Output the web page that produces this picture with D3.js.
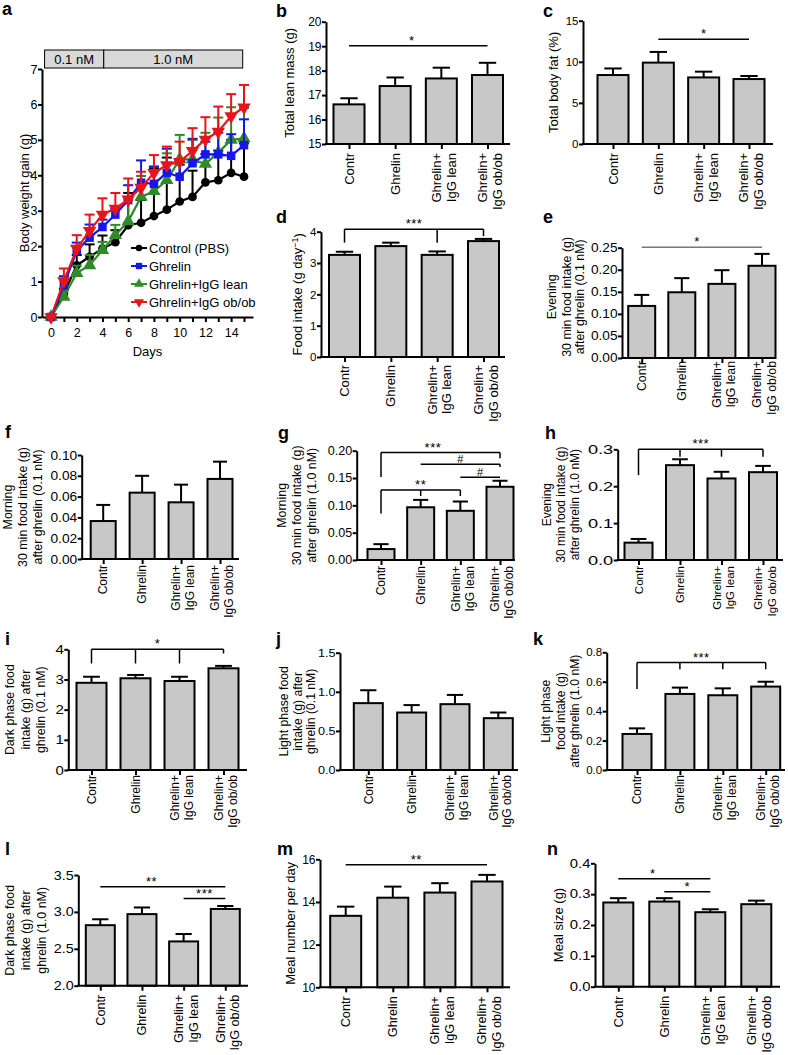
<!DOCTYPE html>
<html><head><meta charset="utf-8">
<script src="https://cdn.jsdelivr.net/npm/d3@7"></script>
<style>
body{margin:0;background:#fff;}
svg{display:block;font-family:"Liberation Sans",Arial,Helvetica,sans-serif;}
</style></head><body>
<svg id="fig" width="788" height="1055"></svg>
<script>
// ---------------- DATA ----------------
const groups = ["Contr","Ghrelin","Ghrelin+\nIgG lean","Ghrelin+\nIgG ob/ob"];

// panel a: body weight gain (g) by day
const days = [0,1,2,3,4,5,6,7,8,9,10,11,12,13,14,15];
const dayTickLabels = ["0","2","4","6","8","10","12","14"];
const weightTickLabels = ["0","1","2","3","4","5","6","7"];
const seriesNames = ["Control (PBS)","Ghrelin","Ghrelin+IgG lean","Ghrelin+IgG ob/ob"];
const controlGain = [0,0.66,1.46,1.70,1.93,2.11,2.59,2.66,2.85,3.03,3.26,3.39,3.80,3.86,4.07,3.96];
const controlSem  = [0,0.14,0.29,0.35,0.37,0.34,0.91,0.64,1.35,1.47,1.04,0.74,0.80,0.84,0.93,0.94];
const ghrelinGain = [0,0.90,1.87,2.24,2.54,2.89,3.30,3.79,3.76,4.07,3.96,4.34,4.59,4.59,4.55,4.85];
const ghrelinSem  = [0,0.25,0.23,0.37,0.21,0.16,0.42,0.63,0.48,0.68,0.44,0.69,0.36,0.61,0.61,0.73];
const leanGain    = [0,0.57,1.24,1.46,1.89,2.31,2.70,3.39,3.55,3.86,4.45,4.45,4.32,4.64,5.00,5.04];
const leanSem     = [0,0.18,0.21,0.29,0.23,0.29,0.60,0.59,0.70,0.76,0.69,0.55,0.88,0.99,0.92,0.86];
const obobGain    = [0,1.01,1.93,2.43,2.89,3.06,3.32,3.65,4.07,4.29,4.38,4.69,5.01,5.23,5.67,5.92];
const obobSem     = [0,0.36,0.38,0.46,0.46,0.44,0.59,0.45,0.50,0.52,0.57,0.64,0.63,0.71,0.62,0.63];
const doseLabels = ["0.1 nM","1.0 nM"];
const doseStartDay = [-0.5,4.1];
const doseEndDay = [4.1,14.9];

// panel b
const leanMass = [16.62,17.37,17.68,17.82];
const leanMassSem = [0.25,0.35,0.44,0.50];
const leanMassTicks = ["15","16","17","18","19","20"];
// panel c
const bodyFat = [8.39,9.9,8.1,7.9];
const bodyFatSem = [0.8,1.3,0.7,0.37];
const bodyFatTicks = ["0","5","10","15"];
// panel d
const foodIntake = [3.26,3.54,3.26,3.70];
const foodIntakeSem = [0.10,0.11,0.11,0.07];
const foodIntakeTicks = ["0","1","2","3","4"];
// panel e
const eveLow = [0.118,0.149,0.168,0.209];
const eveLowSem = [0.025,0.032,0.031,0.027];
const eveLowTicks = ["0.00","0.05","0.10","0.15","0.20","0.25"];
// panel f
const mornLow = [0.0365,0.0638,0.0545,0.077];
const mornLowSem = [0.0155,0.0162,0.017,0.0166];
const mornLowTicks = ["0.00","0.02","0.04","0.06","0.08","0.10"];
// panel g
const mornHigh = [0.020,0.0965,0.090,0.134];
const mornHighSem = [0.009,0.0135,0.017,0.011];
const mornHighTicks = ["0.00","0.05","0.10","0.15","0.20"];
// panel h
const eveHigh = [0.047,0.257,0.221,0.238];
const eveHighSem = [0.010,0.016,0.018,0.017];
const eveHighTicks = ["0.0","0.1","0.2","0.3"];
// panel i
const darkLow = [2.89,3.04,2.95,3.37];
const darkLowSem = [0.20,0.11,0.14,0.08];
const darkLowTicks = ["0","1","2","3","4"];
// panel j
const lightLow = [0.855,0.735,0.842,0.663];
const lightLowSem = [0.165,0.095,0.118,0.072];
const lightLowTicks = ["0.0","0.5","1.0","1.5"];
// panel k
const lightHigh = [0.245,0.517,0.508,0.567];
const lightHighSem = [0.038,0.043,0.047,0.033];
const lightHighTicks = ["0.0","0.2","0.4","0.6","0.8"];
// panel l
const darkHigh = [2.82,2.97,2.60,3.04];
const darkHighSem = [0.08,0.09,0.10,0.04];
const darkHighTicks = ["2.0","2.5","3.0","3.5"];
// panel m
const mealNumber = [13.35,14.2,14.44,14.96];
const mealNumberSem = [0.43,0.52,0.44,0.31];
const mealNumberTicks = ["10","12","14","16"];
// panel n
const mealSize = [0.273,0.276,0.2415,0.2675];
const mealSizeSem = [0.014,0.011,0.0095,0.0115];
const mealSizeTicks = ["0.0","0.1","0.2","0.3","0.4"];

// significance annotations (group indices, y values)
const sigB = [{at:[0,3], y:19.02, label:"*", pos:1.36}];
const sigC = [{at:[1,3], y:12.73, label:"*"}];
const sigD = [{at:[0,2,3], y:4.08, drops:[3.65,3.65,3.86], label:"***"}];
const sigE = [{at:[0,3], y:0.251, label:"*", pos:1.38, gray:true}];
const sigF = [];
const sigG = [
  {at:[0,3], y:0.1965, drops:[0.152,0.186], label:"***", pos:1.31},
  {at:[1,3], y:0.175, drops:[0.175,0.17], label:"#"},
  {at:[2,3], y:0.1515, label:"#"},
  {at:[0,1,2], y:0.128, drops:[0.085,0.117,0.117], label:"**"}];
const sigH = [{at:[0,1,2,3], y:0.30, drops:[0.23,0.28,0.28,0.28], label:"***"}];
const sigI = [{at:[0,1,2,3], y:4.0, drops:[3.53,3.53,3.53,3.86], label:"*"}];
const sigJ = [];
const sigK = [{at:[0,1,2,3], y:0.73, drops:[0.55,0.685,0.685,0.685], label:"***"}];
const sigL = [{at:[0,3], y:3.34, label:"**", pos:1.23},{at:[2,3], y:3.18, label:"***"}];
const sigM = [{at:[0,3], y:15.74, label:"**"}];
const sigN = [{at:[0,2], y:0.35, label:"*", pos:0.75},{at:[1,2], y:0.308, label:"*"}];

// ---------------- DRAWING ----------------
const svg = d3.select("#fig");
const BAR_FILL = "#c8c8c8";

function styleAxis(sel, fs, sx){
  sel.attr("font-family",null).attr("font-size",null);
  sel.select(".domain").attr("stroke","#000").attr("stroke-width",2);
  sel.selectAll(".tick line").attr("stroke","#000").attr("stroke-width",2);
  sel.selectAll(".tick text").attr("fill","#000").style("font-size",fs+"px");
  if(sx && sx!==1){
    sel.selectAll(".tick text").each(function(){
      const t = d3.select(this); const x0 = +t.attr("x");
      t.attr("x", x0/sx).attr("transform",`scale(${sx},1)`);
    });
  }
}

function panelLetter(t,x,y){
  svg.append("text").attr("x",x).attr("y",y).style("font-size","18px").style("font-weight","bold").text(t);
}

function yLabel(xs, cy, lines, fs, superLast){
  lines.forEach((t,i)=>{
    const tx = svg.append("text").attr("transform",`translate(${xs[i]},${cy}) rotate(-90)`)
      .attr("text-anchor","middle").attr("dy","0.35em").style("font-size",fs+"px");
    if(superLast && i===lines.length-1){
      tx.append("tspan").text("Food intake (g day");
      tx.append("tspan").attr("dy","-0.45em").style("font-size","9px").text("\u22121");
      tx.append("tspan").attr("dy","0.45em").text(")");
    } else tx.text(t);
  });
}

function barPanel(L, means, sems, tickLabels, sigs, ylines, superLast){
  panelLetter(L.letter, L.lx, L.ly);
  const g = svg.append("g");
  const tv = tickLabels.map(Number);
  const x = d3.scalePoint().domain(groups).range([L.c0, L.c3]);
  const y = d3.scaleLinear().domain([tv[0], tv[tv.length-1]]).range([L.yBot, L.yTop]);
  const base = tv[0];
  // error bars
  const eb = g.append("g").attr("stroke","#000").attr("stroke-width",2);
  means.forEach((m,i)=>{
    const cx = x(groups[i]);
    eb.append("line").attr("x1",cx).attr("x2",cx).attr("y1",y(m)).attr("y2",y(m+sems[i]));
    eb.append("line").attr("x1",cx-L.bw*0.28).attr("x2",cx+L.bw*0.28).attr("y1",y(m+sems[i])).attr("y2",y(m+sems[i]));
  });
  // bars
  g.selectAll("rect.bar").data(means).join("rect").attr("class","bar")
    .attr("x",(d,i)=>x(groups[i])-L.bw/2).attr("y",d=>y(d))
    .attr("width",L.bw).attr("height",d=>y(base)-y(d))
    .attr("fill",BAR_FILL).attr("stroke","#000").attr("stroke-width",2);
  // y axis
  const yg = g.append("g").attr("transform",`translate(${L.x0},0)`)
    .call(d3.axisLeft(y).tickValues(tv).tickFormat((d,i)=>tickLabels[i]).tickSize(4).tickSizeOuter(0).tickPadding(0.5));
  styleAxis(yg, L.tfs, L.tsx);
  // x axis
  const xg = g.append("g").attr("transform",`translate(0,${L.yBot})`)
    .call(d3.axisBottom(x).tickSize(5).tickFormat("").tickSizeOuter(0));
  styleAxis(xg, L.tfs, 1);
  xg.select(".domain").remove();
  g.append("line").attr("x1",L.x0-1).attr("x2",L.x1).attr("y1",L.yBot).attr("y2",L.yBot)
    .attr("stroke","#000").attr("stroke-width",2);
  // group labels
  groups.forEach(gr=>{
    const lines = gr.split("\n");
    const t = g.append("text").attr("transform",`translate(${x(gr)},${L.yBot+L.gap}) rotate(-90)`)
      .attr("text-anchor","end").style("font-size",L.gfs+"px");
    if(lines.length===1) t.append("tspan").attr("x",0).attr("dy","0.35em").text(lines[0]);
    else {
      t.append("tspan").attr("x",0).attr("dy","-0.05em").text(lines[0]);
      t.append("tspan").attr("x",0).attr("dy","1.15em").text(lines[1]);
    }
  });
  // significance
  const step = x.step();
  sigs.forEach(s=>{
    const col = s.gray ? "#777" : "#000";
    const xa = x(groups[s.at[0]]), xb = x(groups[s.at[s.at.length-1]]);
    const yy = y(s.y);
    g.append("line").attr("x1",xa).attr("x2",xb).attr("y1",yy).attr("y2",yy)
      .attr("stroke",col).attr("stroke-width",1.5);
    if(s.drops){
      s.at.forEach((gi,k)=>{
        const cx = x(groups[gi]);
        g.append("line").attr("x1",cx).attr("x2",cx).attr("y1",yy).attr("y2",y(s.drops[k]))
          .attr("stroke",col).attr("stroke-width",1.5);
      });
    }
    const lx = s.pos!==undefined ? L.c0 + s.pos*step : (xa+xb)/2;
    const isHash = s.label==="#";
    g.append("text").attr("x",lx).attr("y", yy - (isHash?1.5:1))
      .attr("text-anchor","middle").style("font-size", isHash?"11px":"13px")
      .style("letter-spacing", isHash?"0":"0.5px").attr("fill","#000").text(s.label);
  });
  yLabel(L.ylx, (L.yTop+L.yBot)/2 + (L.ydy||0), ylines, L.yfs, superLast);
}

// ---------- panel a ----------
(function(){
  panelLetter("a",2,15);
  const g = svg.append("g");
  const x = d3.scaleLinear().domain([-0.7,15.7]).range([42,253]);
  const y = d3.scaleLinear().domain([0,7]).range([317,69]);
  doseLabels.forEach((lab,i)=>{
    const xa = x(doseStartDay[i]), xb = x(doseEndDay[i]);
    g.append("rect").attr("x",xa).attr("y",50).attr("width",xb-xa).attr("height",18)
      .attr("fill","#d9d9d9").attr("stroke","#000").attr("stroke-width",1);
    g.append("text").attr("x",(xa+xb)/2).attr("y",59).attr("dy","0.35em").attr("text-anchor","middle")
      .style("font-size","13px").text(lab);
  });
  const yg = g.append("g").attr("transform","translate(42,0)")
    .call(d3.axisLeft(y).tickValues(weightTickLabels.map(Number)).tickFormat((d,i)=>weightTickLabels[i]).tickSize(4).tickSizeOuter(0).tickPadding(0.5));
  styleAxis(yg, 12.5, 1);
  const xg = g.append("g").attr("transform","translate(0,317)")
    .call(d3.axisBottom(x).tickValues(days).tickFormat(d=>{const k=dayTickLabels.indexOf(String(d));return k>=0?dayTickLabels[k]:"";}).tickSize(5).tickSizeOuter(0).tickPadding(6));
  styleAxis(xg, 12.5, 1);
  g.append("text").attr("x",x(7.5)).attr("y",356).attr("text-anchor","middle").style("font-size","13px").text("Days");
  svg.append("text").attr("transform","translate(24.5,193) rotate(-90)").attr("text-anchor","middle").attr("dy","0.35em")
    .style("font-size","13px").text("Body weight gain (g)");

  const series = [
    {name:seriesNames[0], mean:controlGain, sem:controlSem, color:"#000000", sym:d3.symbolCircle, size:60, rot:0},
    {name:seriesNames[1], mean:ghrelinGain, sem:ghrelinSem, color:"#1515f0", sym:d3.symbolSquare, size:72, rot:0},
    {name:seriesNames[2], mean:leanGain, sem:leanSem, color:"#2f8a2a", sym:d3.symbolTriangle, size:78, rot:0},
    {name:seriesNames[3], mean:obobGain, sem:obobSem, color:"#e8141c", sym:d3.symbolTriangle, size:78, rot:180}
  ];
  const order = [0,2,1,3];
  order.forEach(si=>{
    const s = series[si];
    const sg = g.append("g");
    days.forEach((d,i)=>{
      if(s.sem[i]<=0) return;
      const cx = x(d), y0 = y(s.mean[i]), y1 = y(s.mean[i]+s.sem[i]);
      sg.append("line").attr("x1",cx).attr("x2",cx).attr("y1",y0).attr("y2",y1).attr("stroke",s.color).attr("stroke-width",2);
      sg.append("line").attr("x1",cx-5).attr("x2",cx+5).attr("y1",y1).attr("y2",y1).attr("stroke",s.color).attr("stroke-width",2);
    });
    const line = d3.line().x((d,i)=>x(days[i])).y(d=>y(d));
    sg.append("path").datum(s.mean).attr("d",line).attr("fill","none").attr("stroke",s.color).attr("stroke-width",2.2);
    sg.selectAll("path.m").data(s.mean).join("path").attr("class","m")
      .attr("transform",(d,i)=>`translate(${x(days[i])},${y(d)}) rotate(${s.rot})`)
      .attr("d",d3.symbol().type(s.sym).size(s.size)).attr("fill",s.color);
  });
  const ly = [248,266,284,302];
  series.forEach((s,i)=>{
    const lg = g.append("g").attr("transform",`translate(0,${ly[i]})`);
    lg.append("line").attr("x1",131).attr("x2",147).attr("y1",0).attr("y2",0).attr("stroke",s.color).attr("stroke-width",2);
    lg.append("path").attr("transform",`translate(139,0) rotate(${s.rot})`).attr("d",d3.symbol().type(s.sym).size(s.size*0.55)).attr("fill",s.color);
    lg.append("text").attr("x",149).attr("y",0).attr("dy","0.35em").style("font-size","13px").text(s.name);
  });
})();

// ---------- bar panels ----------
barPanel({letter:"b",lx:276,ly:17,x0:326,x1:510,c0:349,c3:487.5,yTop:21.7,yBot:144,bw:31,ylx:[289],tfs:12,tsx:1,gfs:13,gap:9,yfs:13},
  leanMass, leanMassSem, leanMassTicks, sigB, ["Total lean mass (g)"]);
barPanel({letter:"c",lx:543,ly:17,x0:583,x1:773,c0:613,c3:749,yTop:20.7,yBot:144,bw:31,ylx:[553],tfs:11.5,tsx:1,gfs:13,gap:9,yfs:13},
  bodyFat, bodyFatSem, bodyFatTicks, sigC, ["Total body fat (%)"]);
barPanel({letter:"d",lx:276,ly:223,x0:321,x1:505,c0:344.5,c3:483.5,yTop:231.7,yBot:357,bw:31,ylx:[297],tfs:11.5,tsx:1,gfs:13,gap:8,yfs:13},
  foodIntake, foodIntakeSem, foodIntakeTicks, sigD, ["Food intake (g day-1)"], true);
barPanel({letter:"e",lx:543,ly:223,x0:622,x1:775,c0:641.7,c3:762,yTop:247.7,yBot:358,bw:27,ylx:[552,567,580],tfs:12,tsx:1.14,gfs:12.3,gap:3,yfs:12.4,ydy:-6},
  eveLow, eveLowSem, eveLowTicks, sigE, ["Evening","30 min food intake (g)","after ghrelin (0.1 nM)"]);
barPanel({letter:"f",lx:5,ly:438,x0:81.7,x1:239,c0:103.2,c3:220,yTop:455,yBot:559,bw:25,ylx:[8,23,38],tfs:12.5,tsx:1.1,gfs:12,gap:6,yfs:12.4},
  mornLow, mornLowSem, mornLowTicks, sigF, ["Morning","30 min food intake (g)","after ghrelin (0.1 nM)"]);
barPanel({letter:"g",lx:278,ly:439,x0:356.7,x1:515,c0:381,c3:500,yTop:450.7,yBot:560,bw:27,ylx:[282,297,312],tfs:12,tsx:1.05,gfs:12,gap:6,yfs:12.4},
  mornHigh, mornHighSem, mornHighTicks, sigG, ["Morning","30 min food intake (g)","after ghrelin (1.0 nM)"]);
barPanel({letter:"h",lx:545,ly:439,x0:617.7,x1:783,c0:638.5,c3:763,yTop:449.3,yBot:560,bw:28,ylx:[547,561,575],tfs:13,tsx:1.4,gfs:11.5,gap:6,yfs:12},
  eveHigh, eveHighSem, eveHighTicks, sigH, ["Evening","30 min food intake (g)","after ghrelin (1.0 nM)"]);
barPanel({letter:"i",lx:5,ly:645,x0:68.3,x1:247,c0:91.5,c3:223.5,yTop:649.3,yBot:770,bw:30,ylx:[10,26,41],tfs:12.5,tsx:1.2,gfs:12,gap:5,yfs:12.4},
  darkLow, darkLowSem, darkLowTicks, sigI, ["Dark phase food","intake (g) after","ghrelin (0.1 nM)"]);
barPanel({letter:"j",lx:276,ly:645,x0:340,x1:518,c0:368.3,c3:498.3,yTop:652.7,yBot:770,bw:29,ylx:[284,298,311],tfs:11.5,tsx:1.1,gfs:12,gap:5,yfs:12.2},
  lightLow, lightLowSem, lightLowTicks, sigJ, ["Light phase food","intake (g) after","ghrelin (0.1 nM)"]);
barPanel({letter:"k",lx:533,ly:645,x0:606.7,x1:785,c0:637,c3:765.7,yTop:652.3,yBot:770,bw:29,ylx:[546,561,575],tfs:11.5,tsx:1,gfs:12,gap:5,yfs:12.2},
  lightHigh, lightHighSem, lightHighTicks, sigK, ["Light phase","food intake (g)","after ghrelin (1.0 nM)"]);
barPanel({letter:"l",lx:5,ly:855,x0:78.3,x1:248,c0:100.3,c3:225.3,yTop:875,yBot:985.7,bw:29,ylx:[10,26,42],tfs:12.5,tsx:1.15,gfs:12.7,gap:9,yfs:12.4},
  darkHigh, darkHighSem, darkHighTicks, sigL, ["Dark phase food","intake (g) after","ghrelin (1.0 nM)"]);
barPanel({letter:"m",lx:277,ly:855,x0:320,x1:510,c0:345.7,c3:487,yTop:859.3,yBot:987.3,bw:31,ylx:[290],tfs:12,tsx:1,gfs:12.7,gap:9,yfs:13},
  mealNumber, mealNumberSem, mealNumberTicks, sigM, ["Meal number per day"]);
barPanel({letter:"n",lx:547,ly:855,x0:595,x1:780,c0:618.3,c3:756.3,yTop:863.3,yBot:986.7,bw:30,ylx:[558],tfs:12,tsx:1.24,gfs:13,gap:9,yfs:13},
  mealSize, mealSizeSem, mealSizeTicks, sigN, ["Meal size (g)"]);
</script>
</body></html>
